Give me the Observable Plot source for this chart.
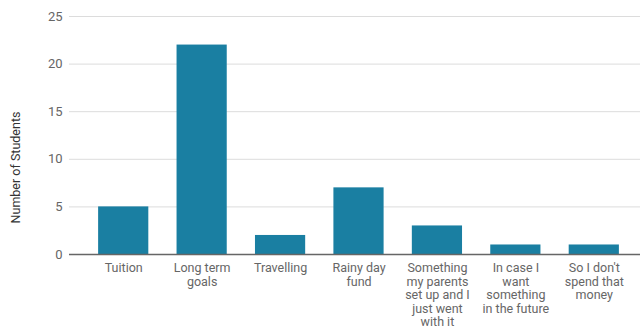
<!DOCTYPE html>
<html>
<head>
<meta charset="utf-8">
<script src="https://cdn.jsdelivr.net/npm/d3@7"></script>
<script src="https://cdn.jsdelivr.net/npm/@observablehq/plot@0.6"></script>
<style>
  html, body { margin: 0; padding: 0; background: #fff; }
  #chart svg { display: block; }
</style>
</head>
<body>
<div id="chart"></div>
<script>
const categories = ["Tuition", "Long term goals", "Travelling", "Rainy day fund", "Something my parents set up and I just went with it", "In case I want something in the future", "So I don't spend that money"];
const counts = [5, 22, 2, 7, 3, 1, 1];
const tickLabels = ["Tuition", "Long term\ngoals", "Travelling", "Rainy day\nfund", "Something\nmy parents\nset up and I\njust went\nwith it", "In case I\nwant\nsomething\nin the future", "So I don't\nspend that\nmoney"];
const yTicks = [0, 5, 10, 15, 20, 25];
const yLabel = "Number of Students";

const data = categories.map((c, i) => ({category: c, count: counts[i]}));
const labelOf = new Map(categories.map((c, i) => [c, tickLabels[i]]));

const chart = Plot.plot({
  width: 643,
  height: 331,
  marginLeft: 69,
  marginRight: 3,
  marginTop: 16,
  marginBottom: 77,
  style: {fontFamily: "Roboto, sans-serif", background: "#fff"},
  x: {domain: categories, padding: 0.36, paddingOuter: 0.18, insetLeft: 15, insetRight: 7, round: false},
  y: {domain: [0, 25]},
  marks: [
    Plot.ruleY(yTicks.filter(d => d > 0), {stroke: "#dcdcdc", strokeWidth: 1}),
    Plot.barY(data, {x: "category", y: "count", fill: "#1a7fa2"}),
    Plot.ruleY([0], {stroke: "#666", strokeWidth: 1.5}),
    Plot.axisY({ticks: yTicks, tickSize: 0, tickPadding: 7, fontSize: 13, color: "#666", label: null}),
    Plot.axisX({tickSize: 0, tickPadding: 8, fontSize: 12.5, color: "#666", lineHeight: 1.08, lineAnchor: "top", tickFormat: d => labelOf.get(d), label: null}),
    Plot.text([yLabel], {frameAnchor: "left", textAnchor: "middle", dx: -54, dy: 32, rotate: -90, text: d => d, fontSize: 12.5, fill: "#333"})
  ]
});
document.getElementById("chart").appendChild(chart);
</script>
</body>
</html>
